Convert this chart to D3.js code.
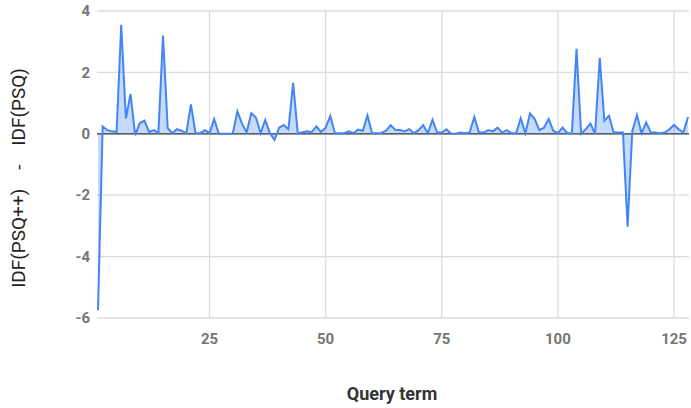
<!DOCTYPE html>
<html>
<head>
<meta charset="utf-8">
<script src="https://cdn.jsdelivr.net/npm/d3@7"></script>
<style>
  body { margin: 0; background: #fff; }
  svg { font-family: Roboto, "Noto Sans", sans-serif; }
</style>
</head>
<body>
<script>
// IDF(PSQ++) - IDF(PSQ), one value per query term (1..128)
const diffs = [
  -5.75, 0.24, 0.12, 0.08, 0.06, 3.55, 0.5, 1.3, -0.04, 0.35,
  0.43, 0.06, 0.12, 0.03, 3.2, 0.18, 0.02, 0.15, 0.1, 0.01,
  0.96, 0.02, 0.02, 0.12, 0.02, 0.48, 0, 0, 0, 0,
  0.73, 0.33, 0.05, 0.67, 0.53, 0.02, 0.45, 0.02, -0.2, 0.2,
  0.29, 0.15, 1.66, 0.02, 0.05, 0.08, 0.05, 0.24, 0.06, 0.2,
  0.58, 0.02, 0.02, 0.02, 0.08, 0.02, 0.14, 0.1, 0.6, 0.02,
  0.02, 0.03, 0.1, 0.28, 0.13, 0.12, 0.08, 0.15, 0.02, 0.12,
  0.28, 0.02, 0.46, 0.04, 0.04, 0.15, 0, 0, 0.04, 0.02,
  0.04, 0.55, 0.04, 0.04, 0.12, 0.08, 0.2, 0.04, 0.12, 0.02,
  0.02, 0.51, 0.02, 0.66, 0.48, 0.12, 0.2, 0.48, 0.1, 0.02,
  0.2, 0.02, 0.02, 2.77, 0, 0.15, 0.33, 0, 2.47, 0.42,
  0.59, 0.04, 0.04, 0.04, -3.03, 0.08, 0.61, 0.02, 0.37, 0.04,
  0.04, 0.02, 0.04, 0.15, 0.29, 0.15, 0.04, 0.55
];
const terms = diffs.map((d, i) => i + 1);
const xTicks = [25, 50, 75, 100, 125];
const yTicks = [-6, -4, -2, 0, 2, 4];

const width = 691, height = 408;
const svg = d3.select("body").append("svg").attr("width", width).attr("height", height);

const x = d3.scaleLinear().domain([1, 128]).range([98, 688]);
const y = d3.scaleLinear().domain([-6, 4]).range([318, 11]);

// grid
svg.append("g").selectAll("line")
   .data(yTicks.filter(d => d !== 0))
   .enter().append("line")
   .attr("x1", 97).attr("x2", 689)
   .attr("y1", d => y(d)).attr("y2", d => y(d))
   .style("stroke", "#dcdcdc").style("stroke-width", 1.3);

svg.append("g").selectAll("line")
   .data(xTicks)
   .enter().append("line")
   .attr("x1", d => x(d)).attr("x2", d => x(d))
   .attr("y1", y(4)).attr("y2", y(-6))
   .style("stroke", "#dcdcdc").style("stroke-width", 1.3);

// tick labels
svg.append("g").selectAll("text")
   .data(yTicks)
   .enter().append("text")
   .attr("x", 90).attr("y", d => y(d))
   .attr("dy", "0.35em")
   .attr("text-anchor", "end")
   .style("font-size", "15px").style("font-weight", "bold").style("fill", "#757575")
   .text(d => d);

svg.append("g").selectAll("text")
   .data(xTicks)
   .enter().append("text")
   .attr("x", d => x(d)).attr("y", 344)
   .attr("text-anchor", "middle")
   .style("font-size", "15px").style("font-weight", "bold").style("fill", "#757575")
   .text(d => d);

// area + line
const pts = terms.map((t, i) => [t, diffs[i]]);
const area = d3.area().x(d => x(d[0])).y0(y(0)).y1(d => y(d[1]));
const line = d3.line().x(d => x(d[0])).y(d => y(d[1]));

svg.append("path").datum(pts).attr("d", area)
   .style("fill", "#4285f4").style("fill-opacity", 0.3);

// zero line
svg.append("line")
   .attr("x1", 97).attr("x2", 689)
   .attr("y1", y(0)).attr("y2", y(0))
   .style("stroke", "#333").style("stroke-width", 1.3);

svg.append("path").datum(pts).attr("d", line)
   .style("fill", "none").style("stroke", "#4285f4").style("stroke-width", 2)
   .style("stroke-linejoin", "miter");

// axis titles
svg.append("text")
   .attr("x", 392).attr("y", 400)
   .attr("text-anchor", "middle")
   .style("font-size", "18px").style("font-weight", "bold").style("fill", "#333")
   .text("Query term");

svg.append("text")
   .attr("transform", "translate(25,178) rotate(-90)")
   .attr("text-anchor", "middle")
   .style("font-size", "19px").style("fill", "#222").style("white-space", "pre")
   .text("IDF(PSQ++)    -    IDF(PSQ)");
</script>
</body>
</html>
